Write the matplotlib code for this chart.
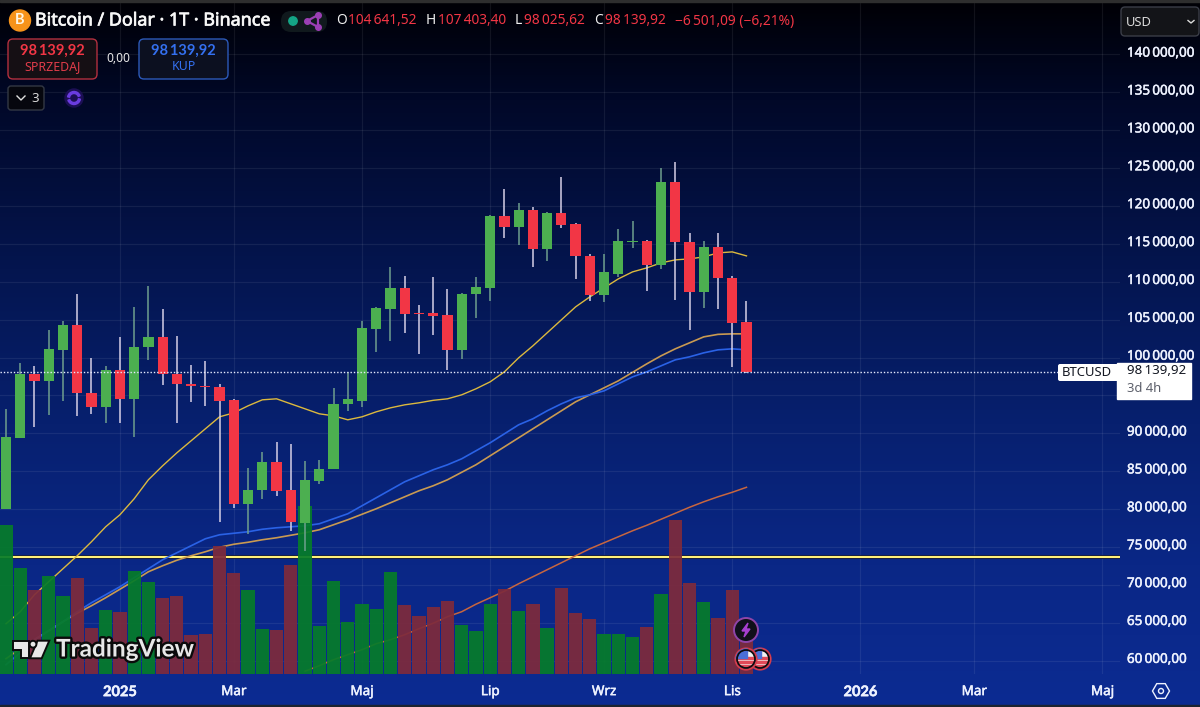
import matplotlib
matplotlib.use("Agg")
import matplotlib.pyplot as plt
import matplotlib.patheffects as pe
from matplotlib.colors import LinearSegmentedColormap
from matplotlib.patches import Circle, FancyBboxPatch, Polygon, Rectangle, Wedge
from matplotlib.transforms import ScaledTranslation
import numpy as np

plt.rcParams['font.family'] = ['Noto Sans', 'DejaVu Sans']
BOLD = ['Lato', 'Liberation Sans']

# weekly candles
opens = [80042, 89363, 97849, 96970, 101015, 104313, 95343, 93408, 98377, 94508,
         101367, 102686, 97849, 96574, 96223, 96178, 94332, 80701, 82548, 86153,
         82460, 78195, 83735, 85230, 93804, 94288, 103829, 106422, 109193, 105894,
         105894, 105587, 101014, 108357, 109236, 118734, 117283, 119437, 114381, 119130,
         117635, 113370, 108225, 111039, 115304, 115436, 112270, 123175, 115304, 108708,
         114601, 110511, 104641.52]
highs = [93189, 99344, 98905, 103653, 104885, 108358, 100004, 98905, 102686, 106643,
         109457, 106379, 102862, 99037, 99564, 96530, 94508, 85406, 87517, 88880,
         88615, 86285, 86505, 95959, 98157, 104885, 106731, 112006, 110775, 106950,
         110643, 109061, 108577, 110687, 118822, 122208, 120361, 119877, 119218, 123878,
         117766, 113721, 113634, 116931, 118030, 115568, 125022, 125857, 116403, 115348,
         116448, 110775, 107403.40]
lows = [80042, 89363, 90814, 92353, 94288, 92221, 92573, 91342, 91298, 89495,
        99696, 96442, 91342, 94156, 93540, 78283, 80085, 76700, 81273, 81668,
        77095, 74413, 83295, 85230, 92881, 93496, 100752, 102245, 103300, 100530,
        102949, 98420, 99783, 105279, 107522, 115788, 114865, 112006, 112755, 117063,
        110424, 107522, 107346, 110687, 114513, 108797, 111743, 107654, 103652, 106599,
        106378, 98772, 98025.62]
closes = [89451, 97849, 96970, 101103, 104313, 95255, 93408, 98377, 94508, 101455,
          102686, 97806, 96486, 96223, 96047, 94288, 80701, 82548, 86153, 82416,
          78239, 83823, 85274, 93848, 94464, 103873, 106599, 109193, 105807, 105807,
          105543, 101014, 108445, 109280, 118734, 117283, 119481, 114381, 119130, 117547,
          113414, 108225, 111303, 115436, 115436, 112270, 123175, 115260, 108708, 114601,
          110468, 104576, 98139.92]

# volume in relative units, bottom of the chart is 0
volume = [448, 319, 253, 295, 233, 287, 139, 191, 186, 310, 275, 227, 233, 116, 121,
          383, 303, 253, 135, 133, 328, 505, 145, 278, 155, 211, 195, 306, 206, 175,
          201, 220, 147, 128, 211, 256, 189, 211, 139, 259, 183, 164, 121, 119, 111,
          142, 239, 463, 272, 216, 169, 253, 98]

ma_yellow = [64875, 66458, 68700, 70415, 72130, 73844, 75691, 77669, 79252, 81363,
             83869, 85715, 87430, 89013, 90596, 92178, 92706, 93629, 94421, 94553,
             93893, 93234, 92574, 92310, 91783, 92178, 92838, 93365, 93761, 94025,
             94355, 94553, 95080, 95872, 96795, 98114, 99960, 101543, 103258, 104973,
             106687, 108006, 109193, 110381, 111304, 111831, 112491, 112887, 113019, 113282,
             113810, 113942, 113414]
ma_blue = [59467, 61050, 62765, 63952, 65139, 66458, 67645, 68700, 69755, 70942,
           72130, 73317, 74240, 75163, 76087, 76614, 76812, 77010, 77340, 77537,
           77669, 77801, 78065, 78725, 79384, 80439, 81494, 82550, 83605, 84396,
           85188, 85847, 86639, 87694, 88749, 89936, 91123, 91915, 92970, 93893,
           94684, 95080, 95608, 96531, 97454, 98114, 98905, 99697, 100092, 100620,
           101016, 101148, 101016]
ma_orange = [60259, 61578, 62765, 63952, 65139, 66260, 67249, 68304, 69426, 70547,
             71734, 72525, 73251, 73844, 74372, 74965, 75361, 75625, 75955, 76218,
             76548, 76878, 77274, 77933, 78593, 79318, 80044, 80835, 81626, 82418,
             83077, 83869, 84858, 85847, 87034, 88221, 89408, 90596, 91783, 92970,
             94157, 95080, 96003, 96927, 98048, 99169, 100224, 101148, 101939, 102730,
             103060, 103126, 103126]
# only visible from week 21 on
ma_long = [58610, 59335, 60127, 60786, 61446, 62237, 62765, 63424, 64216, 64941,
           65798, 66458, 67447, 68304, 69162, 70151, 71074, 71998, 72921, 73844,
           74768, 75559, 76350, 77142, 77867, 78659, 79450, 80241, 80967, 81626,
           82220, 82879]
ma_long_start = 21

hline_price = 73712
last_price = 98139.92

price_ticks = list(range(60000, 140001, 5000))
time_tick_pos = [8, 16, 25, 34, 42, 51, 60, 68, 77]
time_tick_labels = ['2025', 'Mar', 'Maj', 'Lip', 'Wrz', 'Lis', '2026', 'Mar', 'Maj']

RED = '#f23645'
GREEN = '#4caf50'
TXT = '#eef2ff'


def fmt_price(v):
    s = f"{v:,.2f}"
    return s.replace(',', '\u2009').replace('.', ',')


def thick(color, w=0.35):
    # a bit heavier than the plain font
    return [pe.withStroke(linewidth=w, foreground=color)]


fig = plt.figure(figsize=(12, 7.07), dpi=100)

# background gradient over the whole figure
bg = fig.add_axes([0, 0, 1, 1], zorder=0)
cmap = LinearSegmentedColormap.from_list('tv', [(0, '#000005'), (0.14, '#010828'), (0.38, '#04154f'),
                                                 (0.6, '#07206f'), (0.8, '#0a2786'), (1, '#0c2b92')])
bg.imshow(np.linspace(0, 1, 256).reshape(-1, 1), aspect='auto', cmap=cmap, extent=[0, 1, 0, 1])
bg.axis('off')

# chart area: 0-1120 px wide, 0-674 px down
ax = fig.add_axes([0, 33 / 707, 1120 / 1200, 674 / 707], zorder=1)
ax.patch.set_alpha(0)
ymin, ymax = 58240, 147181
ax.set_xlim(-0.421, 78.23)
ax.set_ylim(ymin, ymax)

x = np.arange(len(closes))
ax.set_yticks(price_ticks)
ax.set_yticklabels([fmt_price(p) for p in price_ticks])
ax.yaxis.tick_right()
ax.set_xticks(time_tick_pos)
ax.set_xticklabels(time_tick_labels)
ax.tick_params(axis='y', length=0, pad=5, labelsize=9.7, labelcolor=TXT)
ax.tick_params(axis='x', length=0, pad=8, labelsize=9.7, labelcolor=TXT)
up_shift = ScaledTranslation(0, 2 / 72, fig.dpi_scale_trans)
for lab in ax.get_yticklabels():
    lab.set_transform(lab.get_transform() + up_shift)
    lab.set_path_effects(thick(TXT))
for lab, name in zip(ax.get_xticklabels(), time_tick_labels):
    lab.set_path_effects(thick(TXT))
    if name.isdigit():
        lab.set_family(BOLD)
        lab.set_fontweight('bold')
        lab.set_fontsize(10.5)
ax.grid(True, color='#ffffff', alpha=0.07, lw=0.9, zorder=0)
ax.set_axisbelow(True)
for s in ax.spines.values():
    s.set_visible(False)

ax.axhline(hline_price, color='#fff07a', lw=1.5, zorder=1.5,
           path_effects=[pe.Stroke(linewidth=2.8, foreground='#10183a'), pe.Normal()])

ax.plot(x, ma_yellow, color='#dcb93e', lw=1.0, zorder=2)
ax.plot(x, ma_orange, color='#c99a52', lw=1.2, zorder=2)
ax.plot(x, ma_blue, color='#2a62e6', lw=1.2, zorder=2.1)
ax.plot(x[ma_long_start:], ma_long, color='#c8663f', lw=1.1, zorder=2)

up = [c >= o for o, c in zip(opens, closes)]

# volume sits on the same axes, scaled to the bottom of the chart
k = (ymax - ymin) / 2022
ax.bar(x, np.array(volume) * k, bottom=ymin, width=0.93,
       color=['#067c2a' if u else '#7e2b3c' for u in up], alpha=0.93, zorder=3)

ax.vlines(x, lows, highs, colors=['#6f9f8e' if u else '#d6cfe6' for u in up], lw=1.1, zorder=4)
ax.bar(x, np.abs(np.array(closes) - np.array(opens)), bottom=np.minimum(opens, closes), width=0.72,
       color=[GREEN if u else RED for u in up], zorder=5)

ax.plot([-0.421, (1058 - 6) / 14.24], [last_price, last_price], color='#e8ecff', lw=1.0,
        dashes=(1, 1.4), zorder=6)

# interface parts, drawn in pixels
ui = fig.add_axes([0, 0, 1, 1], zorder=2)
ui.set_xlim(0, 1200)
ui.set_ylim(707, 0)
ui.axis('off')
ui.patch.set_alpha(0)

ui.add_patch(Rectangle((0, 0), 1200, 2, color='#2e2e2e'))
ui.add_patch(Rectangle((0, 705), 1200, 2, color='#1c2330'))


def box(x0, y0, x1, y1, fc, ec, r=4, lw=1.0, z=3):
    ui.add_patch(FancyBboxPatch((x0 + r, y0 + r), x1 - x0 - 2 * r, y1 - y0 - 2 * r,
                                boxstyle=f"round,pad={r},rounding_size={r}",
                                fc=fc, ec=ec, lw=lw, zorder=z))


# header
ui.add_patch(Circle((20, 20.5), 10.5, color='#f7931a'))
ui.text(20, 20.5, 'B', color='#fff4e0', fontsize=10.5, fontweight='bold', family=BOLD, ha='center', va='center')
ui.text(35, 20.5, 'Bitcoin / Dolar · 1T · Binance', color='#f8f8f8', fontsize=12.9,
        va='center', path_effects=thick('#f8f8f8', 0.5))
box(281, 11, 327, 32, '#10191d', 'none', r=10, lw=0)
ui.add_patch(Circle((293, 21), 4.2, color='#14a586', zorder=4))
ui.plot([307, 318, 318, 307], [21, 15, 27, 21], color='#9b3fb5', lw=1.6, zorder=4)
ui.scatter([307, 318, 318], [21, 15, 27], s=16, color='#9b3fb5', zorder=4)

segs = [(336, 'O', '#f0f0f0'), (348, '104\u2009641,52', RED), (426, 'H', '#f0f0f0'),
        (438, '107\u2009403,40', RED), (515, 'L', '#f0f0f0'), (524, '98\u2009025,62', RED),
        (594, 'C', '#f0f0f0'), (605, '98\u2009139,92', RED), (675, '\u22126\u2009501,09 (\u22126,21%)', RED)]
for sx, s, c in segs:
    ui.text(sx, 21, s, color=c, fontsize=9.9, va='center')

# sell / buy
box(8, 39, 97, 79, '#150f14', '#b3303f', r=5)
ui.text(52.5, 50.5, '98\u2009139,92', color=RED, fontsize=10.5, fontweight='bold', family=BOLD,
        ha='center', va='center', zorder=5)
ui.text(52.5, 67, 'SPRZEDAJ', color='#e03c4a', fontsize=8.9, ha='center', va='center', zorder=5)
ui.text(118, 58, '0,00', color='#e6e6e6', fontsize=8.6, ha='center', va='center')
box(139, 39, 228, 79, '#0c1020', '#2c59b8', r=5)
ui.text(183.5, 50.5, '98\u2009139,92', color='#3470f0', fontsize=10.5, fontweight='bold', family=BOLD,
        ha='center', va='center', zorder=5)
ui.text(183.5, 67, 'KUP', color='#3470f0', fontsize=8.9, ha='center', va='center', zorder=5)

box(8, 86, 44, 110, '#06070e', '#333844', r=3)
ui.plot([17, 21, 25], [96, 100, 96], color='#e0e0e0', lw=1.0, zorder=5)
ui.text(35.5, 98, '3', color='#d8d8d8', fontsize=9.5, ha='center', va='center', zorder=5)
ui.add_patch(Circle((74, 98), 9, color='#1c0f55'))
ui.add_patch(Wedge((74, 98), 6.5, 190, 340, width=2, color='#6a3ce0'))
ui.add_patch(Wedge((74, 98), 6.5, 10, 160, width=2, color='#6a3ce0'))

box(1121, 7, 1199, 36, '#131418', '#3a3d47', r=4)
ui.text(1126, 22, 'USD', color='#dcdcdc', fontsize=9.3, va='center', zorder=5)
ui.plot([1188, 1191, 1194], [20.5, 23, 20.5], color='#dcdcdc', lw=1.0, zorder=5)

# last price tag
box(1058, 364, 1120, 381, '#ffffff', 'none', r=2, lw=0, z=6)
ui.add_patch(Rectangle((1117, 363), 74, 36, color='#ffffff', zorder=6))
ui.text(1062, 372.5, 'BTCUSD', color='#131722', fontsize=9.4, va='center', zorder=7)
ui.text(1127, 371, '98\u2009139,92', color='#131722', fontsize=9.6, va='center', zorder=7)
ui.text(1127, 388, '3d 4h', color='#5d606b', fontsize=9.4, va='center', zorder=7)

# logo
logo = [Polygon([(12.7, 640.7), (29.3, 640.7), (29.3, 658.3), (20.7, 658.3), (20.7, 650), (12.7, 650)]),
        Polygon([(37.5, 640.7), (49.3, 640.7), (41.7, 658.3), (30, 658.3)]),
        Circle((33, 644.2), 3.4)]
for p in logo:
    p.set(fc='#e8e8e8', ec='#0b0b0b', lw=1.4, zorder=6)
    ui.add_patch(p)
ui.text(56, 649, 'TradingView', color='#e8e8e8', fontsize=17.5, fontweight='bold', family=BOLD,
        va='center', zorder=6, path_effects=[pe.withStroke(linewidth=3.4, foreground='#0b0b0b')])

# event markers
ui.add_patch(Circle((746, 630), 12, fc='#10101a', ec='#8f45a8', lw=1.4, zorder=6))
ui.add_patch(Polygon([(748, 623), (742, 631), (746, 631), (744, 637), (750, 629), (746, 629)],
                     color='#a63fd0', zorder=7))
for cx in (760, 746):
    c = Circle((cx, 659), 10.5, fc='#f2f2f2', ec='#d33a4c', lw=1.6, zorder=6 + (760 - cx) * 0.05)
    ui.add_patch(c)
    z = c.get_zorder() + 0.01
    for yy in (657, 661, 665):
        st = Rectangle((cx - 11, yy), 22, 1.8, color='#e04a58', zorder=z)
        ui.add_patch(st)
        st.set_clip_path(c)
    blue = Rectangle((cx - 11, 648), 12, 10, color='#4a6fd8', zorder=z + 0.001)
    ui.add_patch(blue)
    blue.set_clip_path(c)
    ui.add_patch(Circle((cx, 659), 9, fc='none', ec='#0c0c10', lw=1.3, zorder=z + 0.002))

# settings icon
ang = np.radians(np.arange(0, 360, 60))
ui.add_patch(Polygon(np.column_stack([1161 + 8.5 * np.cos(ang), 691 + 8.5 * np.sin(ang)]),
                     fc='none', ec=TXT, lw=1.0))
ui.add_patch(Circle((1161, 691), 2.5, fc='none', ec=TXT, lw=1.0))

fig.savefig('out.png', dpi=100)
